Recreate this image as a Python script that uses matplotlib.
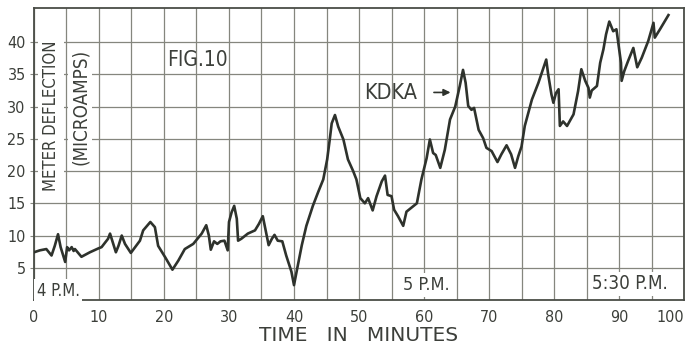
import numpy as np
import matplotlib.pyplot as plt

plt.rcParams['font.family'] = ['DejaVu Sans']
plt.rcParams['font.stretch'] = 'condensed'

# meter reading against time, 4 P.M. onward
minutes = [0, 0.9, 1.9, 2.7, 3.2, 3.7, 4.1, 4.8, 5.1, 5.4, 5.8, 6.1, 6.3, 7.3, 8.6,
           9.9, 10.4, 11.4, 11.7, 12.1, 12.6, 13.0, 13.5, 14.0, 14.9, 15.7, 16.3,
           16.8, 17.9, 18.6, 19.1, 20.2, 21.3, 22.2, 23.2, 24.5, 25.8, 26.5, 26.9,
           27.2, 27.7, 28.2, 28.7, 29.3, 29.8, 30.0, 30.4, 30.8, 31.2, 31.4, 31.9,
           32.9, 34.0, 34.6, 35.2, 35.5, 36.1, 36.6, 37.0, 37.5, 38.2, 38.8, 39.6,
           40.0, 40.4, 41.2, 41.9, 42.9, 43.7, 44.5, 45.1, 45.5, 45.8, 46.3, 46.8,
           47.6, 48.3, 49.1, 49.6, 50.2, 50.9, 51.4, 52.1, 52.7, 53.5, 54.0, 54.4,
           55.0, 55.4, 56.0, 56.8, 57.3, 58.4, 58.9, 59.6, 60.4, 60.9, 61.4, 61.8,
           62.5, 63.2, 64.0, 64.8, 65.5, 66.0, 66.4, 66.8, 67.3, 67.7, 68.4, 69.1,
           69.6, 70.4, 71.3, 71.9, 72.7, 73.4, 74.0, 74.5, 75.0, 75.5, 76.6, 77.6,
           78.3, 78.8, 79.1, 79.6, 79.9, 80.3, 80.7, 80.9, 81.4, 82.0, 83.0, 83.7,
           84.2, 84.8, 85.3, 85.5, 85.8, 86.6, 87.1, 87.6, 88.0, 88.5, 89.1, 89.6,
           90.0, 90.3, 90.4, 90.8, 91.4, 92.2, 92.8, 93.5, 94.5, 95.3, 95.5, 96.3,
           97.6]
deflection = [7.4, 7.7, 7.9, 6.9, 8.4, 10.2, 8.2, 5.9, 8.2, 7.7, 8.2, 7.6, 7.9, 6.7, 7.4,
              8.0, 8.2, 9.5, 10.3, 9.0, 7.4, 8.4, 10.0, 8.7, 7.3, 8.4, 9.2,
              10.8, 12.1, 11.3, 8.4, 6.6, 4.7, 6.1, 7.9, 8.7, 10.3, 11.6, 10.0,
              7.8, 9.1, 8.7, 9.1, 9.2, 7.7, 12.1, 13.6, 14.6, 12.6, 9.2, 9.5,
              10.3, 10.8, 11.8, 13.0, 11.5, 8.5, 9.5, 10.1, 9.2, 9.1, 6.9, 4.4,
              2.3, 4.4, 8.5, 11.5, 14.6, 16.7, 18.7, 21.8, 24.9, 27.4, 28.7, 26.9,
              24.9, 21.8, 20.0, 18.7, 15.8, 15.0, 15.8, 13.9, 16.1, 18.4, 19.3, 16.3,
              16.1, 14.0, 13.0, 11.5, 13.7, 14.6, 15.0, 18.7, 22.0, 24.9, 22.8, 22.5,
              20.5, 23.3, 28.0, 30.0, 33.2, 35.7, 33.7, 30.1, 29.5, 29.8, 26.4, 25.1,
              23.6, 23.1, 21.4, 22.6, 24.0, 22.6, 20.5, 22.3, 23.8, 27.0, 31.1, 33.7,
              35.8, 37.3, 35.0, 31.9, 30.6, 32.1, 32.7, 27.0, 27.7, 27.0, 28.8, 32.4,
              35.8, 34.0, 32.9, 31.4, 32.5, 33.2, 36.8, 38.9, 41.2, 43.2, 41.7, 42.0,
              39.1, 36.8, 34.0, 35.5, 37.1, 39.1, 36.1, 37.6, 40.2, 43.0, 40.7, 42.0,
              44.2]

x_ticks = list(range(0, 101, 10))
y_ticks = list(range(5, 41, 5))

ink = '#2e322c'
txt = '#3c3f3a'
grid_col = '#85867e'
white_box = dict(facecolor='white', edgecolor='none', pad=2)

fig = plt.figure(figsize=(6.85, 3.48), dpi=100)
ax = fig.add_axes([0.0496, 0.138, 0.949, 0.839])

ax.set_xlim(0, 100)
ax.set_ylim(0, 45.3)
ax.set_xticks(x_ticks)
ax.set_xticks(np.arange(5, 100, 10), minor=True)
ax.set_yticks(y_ticks)
ax.grid(True, which='both', color=grid_col, linewidth=0.9)
ax.tick_params(which='both', length=0, colors=txt, labelsize=11.5)
ax.tick_params(axis='x', pad=7)
ax.tick_params(axis='y', length=3, width=0.8, color=grid_col, pad=3)
ax.get_xticklabels()[-1].set_horizontalalignment('right')
for s in ax.spines.values():
    s.set_color('#4a4d47')
    s.set_linewidth(1.3)

ax.plot(minutes, deflection, color=ink, linewidth=1.9, solid_joinstyle='round', zorder=3)

ax.set_xlabel('TIME   IN   MINUTES', fontsize=14.5, fontstretch='normal', color=txt,
              labelpad=1)

ax.text(2.6, 28.6, 'METER DEFLECTION', rotation=90, ha='center', va='center',
        fontsize=12, color=txt, bbox=dict(facecolor='white', edgecolor='none', pad=3),
        zorder=4)
ax.text(7.1, 30.0, '(MICROAMPS)', rotation=90, ha='center', va='center',
        fontsize=13.5, color=txt, bbox=white_box, zorder=4)
ax.text(25.1, 37.3, 'FIG.10', ha='center', va='center', fontsize=15,
        color=txt, zorder=4)
ax.text(54.8, 32.1, 'KDKA', ha='center', va='center', fontsize=15.5,
        color=txt, zorder=4)
ax.annotate('', xy=(64.5, 32.2), xytext=(61.1, 32.2),
            arrowprops=dict(arrowstyle='-|>', color=ink, lw=1.2, mutation_scale=10))
ax.text(3.7, 1.4, '4 P.M.', ha='center', va='center', fontsize=12,
        color=txt, bbox=white_box, zorder=4)
ax.text(60.3, 2.3, '5 P.M.', ha='center', va='center', fontsize=13,
        color=txt, bbox=white_box, zorder=4)
ax.text(91.7, 2.5, '5:30 P.M.', ha='center', va='center', fontsize=13.5,
        color=txt, bbox=white_box, zorder=4)

fig.savefig('out.png', dpi=100)
